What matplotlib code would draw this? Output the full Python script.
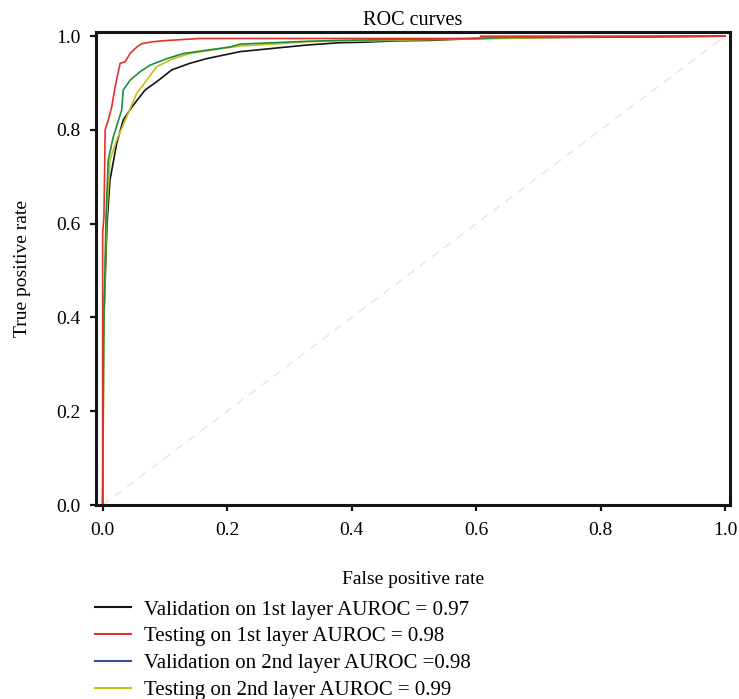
import numpy as np
import matplotlib
matplotlib.use("Agg")
import matplotlib.pyplot as plt
from matplotlib.lines import Line2D

plt.rcParams["font.family"] = ["Liberation Serif", "DejaVu Serif"]

# ROC points (false positive rate, true positive rate)
fpr_val1 = [0.0, 0.001, 0.0025, 0.007, 0.0117, 0.0225, 0.033, 0.047, 0.068, 0.087,
            0.111, 0.140, 0.167, 0.221, 0.274, 0.328, 0.381, 0.418, 0.472, 0.526,
            0.60, 0.70, 0.85, 1.0]
tpr_val1 = [0.0, 0.35, 0.42, 0.60, 0.693, 0.771, 0.821, 0.849, 0.885, 0.903,
            0.928, 0.942, 0.952, 0.967, 0.974, 0.981, 0.986, 0.987, 0.990, 0.991,
            0.995, 0.997, 0.998, 1.0]

fpr_test1 = [0.0, 0.0, 0.002, 0.003, 0.004, 0.009, 0.0145, 0.020, 0.028, 0.036,
             0.044, 0.055, 0.063, 0.081, 0.095, 0.156, 0.607, 0.607, 1.0]
tpr_test1 = [0.0, 0.58, 0.615, 0.70, 0.800, 0.821, 0.849, 0.892, 0.942, 0.945,
             0.963, 0.977, 0.984, 0.988, 0.990, 0.995, 0.995, 1.0, 1.0]

fpr_val2 = [0.0, 0.002, 0.004, 0.0053, 0.009, 0.017, 0.0305, 0.033, 0.044, 0.060,
            0.076, 0.103, 0.130, 0.167, 0.205, 0.221, 0.274, 0.328, 0.381, 0.43,
            0.60, 0.65, 0.75, 1.0]
tpr_val2 = [0.0, 0.40, 0.52, 0.615, 0.736, 0.785, 0.842, 0.885, 0.906, 0.924,
            0.938, 0.952, 0.963, 0.970, 0.977, 0.983, 0.986, 0.989, 0.991, 0.992,
            0.995, 0.997, 0.998, 1.0]

fpr_test2 = [0.0, 0.002, 0.004, 0.0064, 0.0117, 0.0225, 0.0386, 0.0546, 0.0707, 0.0868,
             0.113, 0.140, 0.194, 0.221, 0.274, 0.328, 0.381, 0.435, 0.50, 0.60,
             0.72, 0.80, 1.0]
tpr_test2 = [0.0, 0.40, 0.50, 0.615, 0.736, 0.778, 0.828, 0.878, 0.906, 0.935,
             0.952, 0.963, 0.974, 0.979, 0.983, 0.988, 0.990, 0.990, 0.992, 0.994,
             0.997, 0.999, 1.0]

labels = ["Validation on 1st layer AUROC = 0.97",
          "Testing on 1st layer AUROC = 0.98",
          "Validation on 2nd layer AUROC =0.98",
          "Testing on 2nd layer AUROC = 0.99"]
ticks = [0.0, 0.2, 0.4, 0.6, 0.8, 1.0]

c_black, c_red, c_blue, c_yellow = "#141414", "#e2322a", "#3b4ba6", "#c9c015"
c_green = "#1c8f3e"   # how the 2nd-layer validation curve actually renders

fig = plt.figure(figsize=(7.39, 6.99), dpi=100)
ax = fig.add_axes([0.1295, 0.2775, 0.8585, 0.6765])

ax.plot([0, 1], [0, 1], color="#fbdfd2", lw=1.0, dashes=(6, 5))
ax.plot(fpr_val1, tpr_val1, color=c_black, lw=1.2)
ax.plot(fpr_test2, tpr_test2, color=c_yellow, lw=1.2)
ax.plot(fpr_val2, tpr_val2, color=c_green, lw=1.2)
ax.plot(fpr_test1, tpr_test1, color=c_red, lw=1.2)

ax.set_xlim(-0.0112, 1.008)
ax.set_ylim(0.0, 1.0085)
ax.set_xticks(ticks)
ax.set_yticks(ticks)
ax.set_xticklabels([f"{t:.1f}" for t in ticks])
ax.set_yticklabels([f"{t:.1f}" for t in ticks])
ax.tick_params(direction="out", length=4, width=1.6, labelsize=14, color="#141414")
ax.tick_params(axis="x", pad=8)
ax.tick_params(axis="y", pad=7)
for s in ax.spines.values():
    s.set_linewidth(2.2)
    s.set_color("#141414")

ax.set_title("ROC curves", fontsize=14.5, pad=5)
ax.set_xlabel("False positive rate", fontsize=14, labelpad=23)
ax.set_ylabel("True positive rate", fontsize=14, labelpad=18)

handles = [Line2D([], [], color=c, lw=1.5) for c in (c_black, c_red, c_blue, c_yellow)]
fig.legend(handles, labels, loc="upper left", bbox_to_anchor=(0.128, 1 - 600 / 699),
           bbox_transform=fig.transFigure, frameon=False, fontsize=15,
           handlelength=1.75, handletextpad=0.6, labelspacing=0.35, borderpad=0,
           borderaxespad=0)

fig.savefig("out.png", dpi=100)
